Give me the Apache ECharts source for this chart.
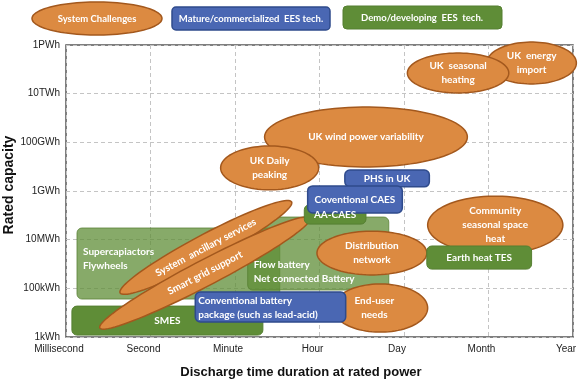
<!DOCTYPE html>
<html><head><meta charset="utf-8">
<script src="https://cdn.jsdelivr.net/npm/echarts@6/dist/echarts.min.js"></script>
<style>html,body{margin:0;padding:0;background:#fff}#c{width:581px;height:379px}</style>
</head><body><div id="c"></div><script>
// x: position on the (evenly spaced) duration scale, 0 = millisecond ... 6 = year
// y: log10(capacity / 1 kWh), 0 = 1kWh ... 12 = 1PWh
const durationLabels = ['Millisecond','Second','Minute','Hour','Day','Month','Year'];
const capacityLabels = ['1kWh','100kWh','10MWh','1GWh','100GWh','10TWh','1PWh'];

// Storage technologies (boxes)
const techNames = ['Supercapiactors\nFlywheels','Flow battery\nNet connected Battery','SMES','AA-CAES','Earth heat TES','Conventional battery\npackage (such as lead-acid)','Coventional CAES','PHS in UK'];
const techKinds = ['demoLight','demoLight','demo','demo','demo','mature','mature','mature'];
const techDurFrom = [0.13, 2.15, 0.07, 2.82, 4.27, 1.53, 2.86, 3.30];
const techDurTo   = [2.53, 3.82, 2.33, 3.55, 5.51, 3.31, 3.98, 4.30];
const techCapFrom = [1.56, 1.93, 0.08, 4.64, 2.79, 0.62, 5.10, 6.17];
const techCapTo   = [4.48, 4.93, 1.27, 5.43, 3.74, 1.85, 6.21, 6.86];

// System challenges (ellipses)
const challengeNames = ['UK  energy\nimport','UK  seasonal\nheating','UK wind power variability','UK Daily\npeaking','Community\nseasonal space\nheat','Distribution\nnetwork','End-user\nneeds'];
const challengeDur     = [5.51, 4.64, 3.55, 2.41, 5.08, 3.62, 3.72];
const challengeCap     = [11.26, 10.85, 8.22, 6.95, 4.60, 3.45, 1.19];
const challengeDurSpan = [0.53, 0.60, 1.20, 0.58, 0.80, 0.65, 0.56];
const challengeCapSpan = [0.86, 0.82, 1.23, 0.90, 1.19, 0.90, 0.99];

// System challenges spanning a range (slanted ellipses)
const bandNames   = ['System  ancillary services','Smart grid support'];
const bandDurFrom = [0.64, 0.40];
const bandCapFrom = [1.81, 0.37];
const bandDurTo   = [2.67, 2.89];
const bandCapTo   = [5.55, 4.89];

// ---- styling ----
const COL = {
  orange:'#dc8a41', orangeEdge:'#a3581d',
  blue:'#4a67b3', blueEdge:'#2f4b8c',
  green:'#5f8d37', greenEdge:'#557f31'
};
const FONT = 'Lato, "Open Sans", sans-serif';
const LBL = 10;
const LEG = 9.5;
const bandHalfWidth = 13;
const labelTweak = {
  'Supercapiactors\nFlywheels': {align:'left', dx:6, dy:-5},
  'Flow battery\nNet connected Battery': {align:'left', dx:6, dy:18},
  'Conventional battery\npackage (such as lead-acid)': {align:'left', dx:3, dy:1},
  'End-user\nneeds': {dx:-6}
};

// draw order (later on top)
const drawOrder = [['t',0],['t',1],['t',2],['b',0],['b',1],['c',6],['t',5],['c',5],['t',3],['t',7],['t',6],['c',4],['t',4],['c',2],['c',3],['c',0],['c',1]];

function ellipsePts(cx, cy, a, b, th, n) {
  const pts = [];
  for (let i = 0; i < n; i++) {
    const t = i / n * Math.PI * 2;
    const x = a * Math.cos(t), y = b * Math.sin(t);
    pts.push([cx + x * Math.cos(th) - y * Math.sin(th), cy + x * Math.sin(th) + y * Math.cos(th)]);
  }
  return pts;
}
function textEl(name, x, y, rot, align) {
  return {type:'text', x:x, y:y, rotation:rot||0, z2:10,
    style:{text:name, fill:'#fff', fontFamily:FONT, fontWeight:'bold', fontSize:LBL,
      align:align||'center', verticalAlign:'middle', lineHeight:14}};
}

function renderItem(params, api) {
  const [kind, i] = drawOrder[params.dataIndex];
  if (kind === 't') {
    const p1 = api.coord([techDurFrom[i], techCapTo[i]]);
    const p2 = api.coord([techDurTo[i], techCapFrom[i]]);
    const k = techKinds[i];
    const fill = k === 'mature' ? COL.blue : COL.green;
    const stroke = k === 'mature' ? COL.blueEdge : COL.greenEdge;
    const tw = labelTweak[techNames[i]] || {};
    const cx = (p1[0] + p2[0]) / 2, cy = (p1[1] + p2[1]) / 2;
    const tx = tw.align === 'left' ? p1[0] + (tw.dx||0) : cx + (tw.dx||0);
    return {type:'group', children:[
      {type:'rect', shape:{x:p1[0], y:p1[1], width:p2[0]-p1[0], height:p2[1]-p1[1], r:5},
       style:{fill:fill, stroke:stroke, lineWidth:k==='mature'?1.5:1, opacity:k==='demoLight'?0.75:1}},
      textEl(techNames[i], tx, cy + (tw.dy||0), 0, tw.align)
    ]};
  }
  if (kind === 'c') {
    const c = api.coord([challengeDur[i], challengeCap[i]]);
    const s = api.size([challengeDurSpan[i], challengeCapSpan[i]]);
    const tw = labelTweak[challengeNames[i]] || {};
    return {type:'group', children:[
      {type:'polygon', shape:{points:ellipsePts(c[0], c[1], s[0], s[1], 0, 90)},
       style:{fill:COL.orange, stroke:COL.orangeEdge, lineWidth:1.5}},
      textEl(challengeNames[i], c[0] + (tw.dx||0), c[1] + (tw.dy||0))
    ]};
  }
  // band
  const p1 = api.coord([bandDurFrom[i], bandCapFrom[i]]);
  const p2 = api.coord([bandDurTo[i], bandCapTo[i]]);
  const cx = (p1[0]+p2[0])/2, cy = (p1[1]+p2[1])/2;
  const th = Math.atan2(p2[1]-p1[1], p2[0]-p1[0]);
  const a = Math.hypot(p2[0]-p1[0], p2[1]-p1[1]) / 2;
  return {type:'group', children:[
    {type:'polygon', shape:{points:ellipsePts(cx, cy, a, bandHalfWidth, th, 90)},
     style:{fill:COL.orange, stroke:COL.orangeEdge, lineWidth:1.5}},
    textEl(bandNames[i], cx, cy, -th)
  ]};
}

const chart = echarts.init(document.getElementById('c'), null, {renderer:'canvas'});
const legendEllipse = ellipsePts(97, 18.5, 65, 16.5, 0, 90);
chart.setOption({
  animation:false,
  backgroundColor:'#fff',
  grid:{left:66, right:8, top:45, bottom:42, show:true, borderColor:'#555', borderWidth:1.5, backgroundColor:'transparent', containLabel:false, outerBoundsMode:'none'},
  xAxis:{type:'value', min:0, max:6, interval:1,
    axisLine:{show:false}, axisTick:{show:false},
    axisLabel:{formatter:v=>durationLabels[v], fontFamily:'"Liberation Sans", Arial, sans-serif', fontSize:10, color:'#222', margin:7, padding:[0,14,0,0]},
    splitLine:{show:true, lineStyle:{type:[4,3], color:'#c4c4c4', width:1}},
    name:'Discharge time duration at rated power', nameLocation:'middle', nameGap:29,
    nameTextStyle:{fontFamily:'"Liberation Sans", Arial, sans-serif', fontWeight:'bold', fontSize:13, color:'#111', padding:[0,37,0,0]}},
  yAxis:{type:'value', min:0, max:12, interval:2,
    axisLine:{show:false}, axisTick:{show:false},
    axisLabel:{formatter:v=>capacityLabels[v/2], fontFamily:'"Liberation Sans", Arial, sans-serif', fontSize:10, color:'#222', margin:6},
    splitLine:{show:true, lineStyle:{type:[4,3], color:'#c4c4c4', width:1}},
    name:'Rated capacity', nameLocation:'middle', nameGap:50, nameMoveOverlap:false,
    nameTextStyle:{fontFamily:'"Liberation Sans", Arial, sans-serif', fontWeight:'bold', fontSize:14, color:'#111', padding:[0,0,0,12]}},
  graphic:[
    {type:'polygon', shape:{points:legendEllipse}, style:{fill:COL.orange, stroke:COL.orangeEdge, lineWidth:1.5}},
    {type:'text', x:97, y:18.5, style:{text:'System Challenges', fill:'#fff', fontFamily:FONT, fontWeight:'bold', fontSize:LEG, align:'center', verticalAlign:'middle'}},
    {type:'rect', shape:{x:172, y:7, width:158, height:23, r:4}, style:{fill:COL.blue, stroke:COL.blueEdge, lineWidth:1.5}},
    {type:'text', x:251, y:18.5, style:{text:'Mature/commercialized  EES tech.', fill:'#fff', fontFamily:FONT, fontWeight:'bold', fontSize:LEG, align:'center', verticalAlign:'middle'}},
    {type:'rect', shape:{x:343, y:6, width:159, height:23, r:4}, style:{fill:COL.green, stroke:COL.greenEdge, lineWidth:1}},
    {type:'text', x:422, y:17.5, style:{text:'Demo/developing  EES  tech.', fill:'#fff', fontFamily:FONT, fontWeight:'bold', fontSize:LEG, align:'center', verticalAlign:'middle'}}
  ],
  series:[{type:'custom', coordinateSystem:'cartesian2d', clip:false,
    renderItem:renderItem,
    data:drawOrder.map(d => d[0]==='t' ? [techDurFrom[d[1]], techCapFrom[d[1]]] : d[0]==='c' ? [challengeDur[d[1]], challengeCap[d[1]]] : [bandDurFrom[d[1]], bandCapFrom[d[1]]])
  }]
});
</script></body></html>
